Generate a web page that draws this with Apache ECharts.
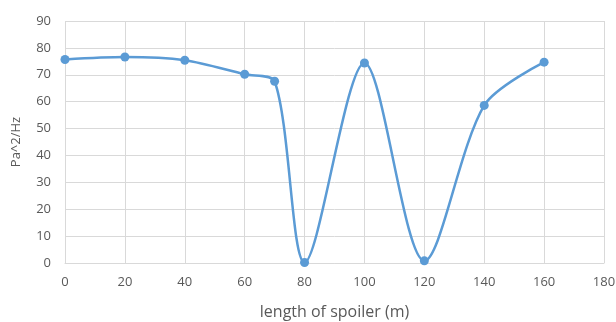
<!DOCTYPE html>
<html>
<head>
<meta charset="utf-8">
<script src="https://cdn.jsdelivr.net/npm/echarts@6/dist/echarts.min.js"></script>
<style>
  html, body { margin: 0; padding: 0; background: #fff; }
  #main { width: 616px; height: 322px; }
</style>
</head>
<body>
<div id="main"></div>
<script>
// spoiler length (m) and response (Pa^2/Hz)
var lengths = [0, 20, 40, 60, 70, 80, 100, 120, 140, 160];
var values = [75.7, 76.6, 75.4, 70.2, 67.6, 0.2, 74.4, 0.8, 58.6, 74.7];
var xTicks = [0, 20, 40, 60, 80, 100, 120, 140, 160, 180];
var yTicks = [0, 10, 20, 30, 40, 50, 60, 70, 80, 90];

var myChart = echarts.init(document.getElementById('main'));

var gridColor = '#d9d9d9';
var textColor = '#595959';
var font = 'Open Sans, Noto Sans, sans-serif';

myChart.setOption({
    animation: false,
    grid: { left: 65, right: 12, top: 21, bottom: 59, outerBoundsMode: 'none' },
    xAxis: {
        type: 'value',
        min: xTicks[0],
        max: xTicks[xTicks.length - 1],
        interval: 20,
        name: 'length of spoiler (m)',
        nameLocation: 'middle',
        nameGap: 41,
        nameTextStyle: { color: textColor, fontSize: 16, fontFamily: font },
        axisLine: { lineStyle: { color: gridColor } },
        axisTick: { show: false },
        axisLabel: { color: textColor, fontSize: 13, fontFamily: font, margin: 13 },
        splitLine: { show: true, lineStyle: { color: gridColor, width: 1 } }
    },
    yAxis: {
        type: 'value',
        min: yTicks[0],
        max: yTicks[yTicks.length - 1],
        interval: 10,
        name: 'Pa^2/Hz',
        nameLocation: 'middle',
        nameGap: 42,
        nameTextStyle: { color: textColor, fontSize: 13, fontFamily: font },
        axisLine: { show: false },
        axisTick: { show: false },
        axisLabel: { color: textColor, fontSize: 13, fontFamily: font, margin: 14 },
        splitLine: { lineStyle: { color: gridColor, width: 1 } }
    },
    series: [{
        type: 'line',
        data: lengths.map(function (x, i) { return [x, values[i]]; }),
        smooth: 0.3,
        symbol: 'circle',
        symbolSize: 9,
        lineStyle: { color: '#5b9bd5', width: 2.5 },
        itemStyle: { color: '#5b9bd5' }
    }]
});
</script>
</body>
</html>
